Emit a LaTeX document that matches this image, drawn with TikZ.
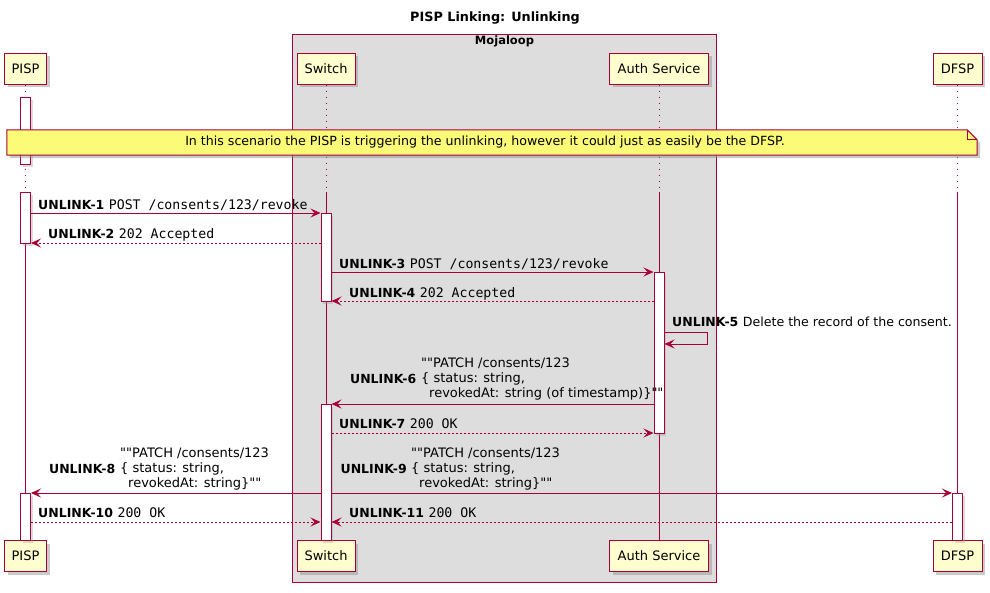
\documentclass[tikz,border=0pt]{standalone}
\usepackage{fontspec}
\setmainfont{DejaVu Sans}
\setmonofont{DejaVu Sans Mono}
\newfontfamily\qfont{DejaVu Sans}[Ligatures=ResetAll]
\usetikzlibrary{arrows.meta,shadows}
\definecolor{pred}{HTML}{A80036}
\definecolor{pfill}{HTML}{FEFECE}
\definecolor{nfill}{HTML}{FBFB77}
\definecolor{bfill}{HTML}{DDDDDD}
\newcommand{\unum}[1]{{\fontsize{12.5}{14}\selectfont\bfseries #1}\hspace{4.5pt}}
\newcommand{\umono}[1]{{\fontsize{13.2}{15}\selectfont\ttfamily #1}}
\begin{document}
\begin{tikzpicture}[x=1pt,y=-1pt,
  part/.style={draw=pred, fill=pfill, line width=1pt, minimum height=31pt, inner sep=0pt,
     font=\fontsize{13}{15}\selectfont,
     drop shadow={shadow xshift=3pt,shadow yshift=-3pt,fill=black!45,opacity=.45}},
  bar/.style={draw=pred, fill=white, line width=1pt, minimum width=10pt, inner sep=0pt,
     drop shadow={shadow xshift=2pt,shadow yshift=-2pt,fill=black!40,opacity=.35}},
  life/.style={draw=pred, line width=1pt},
  lifedot/.style={draw=pred, line width=1pt, dash pattern=on 1pt off 5pt},
  msg/.style={draw=pred, line width=1pt, -{Stealth[length=10pt,width=9pt,inset=4pt]}},
  ret/.style={msg, dash pattern=on 2pt off 2pt},
  lbl/.style={anchor=base west, inner sep=0pt},
  num/.style={font=\fontsize{12.5}{14}\selectfont\bfseries},
  blk/.style={anchor=west, align=left, inner sep=0pt, font=\qfont\fontsize{13}{15}\selectfont},
]
\useasboundingbox (0,0) rectangle (990,592);
\fill[white] (0,0) rectangle (990,592);

% title
\node[font=\fontsize{12.8}{15}\selectfont\bfseries] (title) at (495,18) {PISP Linking: Unlinking};

% Mojaloop box
\node[draw=pred, fill=bfill, line width=1pt, minimum width=424pt, minimum height=548pt,
      anchor=north west, inner sep=0pt] (moja) at (292,34) {};
\node[anchor=north, font=\fontsize{11.5}{14}\selectfont\bfseries, inner sep=2pt] (mojat) at (moja.north) {Mojaloop};

% participants
\node[part, minimum width=42pt] (pispT) at (25.5,68.5) {PISP};
\node[part, minimum width=58pt] (swT) at (326,68.5) {Switch};
\node[part, minimum width=99pt] (auT) at (659,68.5) {Auth Service};
\node[part, minimum width=49pt] (dfT) at (957.5,68.5) {DFSP};
\node[part, minimum width=42pt] (pispB) at (25.5,556) {PISP};
\node[part, minimum width=58pt] (swB) at (326,556) {Switch};
\node[part, minimum width=99pt] (auB) at (659,556) {Auth Service};
\node[part, minimum width=49pt] (dfB) at (957.5,556) {DFSP};

% lifelines
\foreach \p in {pisp,sw,au,df}{
  \draw[lifedot] (\p T.south) -- (\p T.south |- 0,192);
  \draw[life] (\p T.south |- 0,192) -- (\p B.north);
}

% activation bars
\node[bar, minimum height=67pt, anchor=north] (pb1) at (25.5,97) {};
\node[bar, minimum height=51pt, anchor=north] (pb2) at (25.5,192) {};
\node[bar, minimum height=47pt, anchor=north] (pb3) at (25.5,493) {};
\node[bar, minimum height=88pt, anchor=north] (sb1) at (326,213) {};
\node[bar, minimum height=136pt, anchor=north] (sb2) at (326,404) {};
\node[bar, minimum height=161pt, anchor=north] (ab1) at (659,272) {};
\node[bar, minimum height=47pt, anchor=north] (db1) at (957.5,493) {};

% note
\node[minimum width=970pt, minimum height=25pt, inner sep=0pt] (note) at (492,142.5) {};
\fill[black!45, opacity=.45] ([shift={(3,3)}]note.north west) -- ([shift={(-7,3)}]note.north east)
   -- ([shift={(3,13)}]note.north east) -- ([shift={(3,3)}]note.south east) -- ([shift={(3,3)}]note.south west) -- cycle;
\draw[draw=pred, fill=nfill, line width=1pt] (note.north west) -- ([xshift=-10pt]note.north east)
   -- ([yshift=-10pt]note.north east) -- (note.south east) -- (note.south west) -- cycle;
\draw[draw=pred, line width=1pt] ([xshift=-10pt]note.north east) -- ([xshift=-10pt,yshift=-10pt]note.north east) -- ([yshift=-10pt]note.north east);
\node[font=\fontsize{12.6}{14}\selectfont] (notet) at ([xshift=-7pt]note.center)
      {In this scenario the PISP is triggering the unlinking, however it could just as easily be the DFSP.};

% messages
\draw[msg] (pb2.east |- 0,213) -- (sb1.west |- 0,213);
\node[lbl] (l1) at (38,209) {\unum{UNLINK-1}\umono{POST /consents/123/revoke}};

\draw[ret] (sb1.west |- 0,243) -- (pb2.east |- 0,243);
\node[lbl] (l2) at (48,238) {\unum{UNLINK-2}\umono{202 Accepted}};

\draw[msg] (sb1.east |- 0,272) -- (ab1.west |- 0,272);
\node[lbl] (l3) at (339,268) {\unum{UNLINK-3}\umono{POST /consents/123/revoke}};

\draw[ret] (ab1.west |- 0,301) -- (sb1.east |- 0,301);
\node[lbl] (l4) at (349,297) {\unum{UNLINK-4}\umono{202 Accepted}};

\coordinate (s5a) at (707,332);
\coordinate (s5b) at (707,344);
\draw[msg] (ab1.east |- 0,332) -- (s5a) -- (s5b) -- (ab1.east |- 0,344);
\node[lbl] (l5) at (672,326) {\unum{UNLINK-5}{\fontsize{12.6}{15}\selectfont Delete the record of the consent.}};

\draw[msg] (ab1.west |- 0,404) -- (sb2.east |- 0,404);
\node[blk] (b6) at (421,379) {""PATCH /consents/123\\\{ status: string,\\\hspace*{8pt}revokedAt: string (of timestamp)\}""};
\node[anchor=east, inner sep=0pt, num] (n6) at (416.5,379) {UNLINK-6};

\draw[ret] (sb2.east |- 0,433) -- (ab1.west |- 0,433);
\node[lbl] (l7) at (339,428) {\unum{UNLINK-7}\umono{200 OK}};

\draw[msg] (sb2.west |- 0,493) -- (pb3.east |- 0,493);
\node[blk] (b8) at (120,469) {""PATCH /consents/123\\\{ status: string,\\\hspace*{8pt}revokedAt: string\}""};
\node[anchor=east, inner sep=0pt, num] (n8) at (115.5,469) {UNLINK-8};

\draw[msg] (sb2.east |- 0,493) -- (db1.west |- 0,493);
\node[blk] (b9) at (411,469) {""PATCH /consents/123\\\{ status: string,\\\hspace*{8pt}revokedAt: string\}""};
\node[anchor=east, inner sep=0pt, num] (n9) at (407,469) {UNLINK-9};

\draw[ret] (pb3.east |- 0,522) -- (sb2.west |- 0,522);
\node[lbl] (l10) at (38,517) {\unum{UNLINK-10}\umono{200 OK}};

\draw[ret] (db1.west |- 0,522) -- (sb2.east |- 0,522);
\node[lbl] (l11) at (349,517) {\unum{UNLINK-11}\umono{200 OK}};
\end{tikzpicture}
\end{document}
